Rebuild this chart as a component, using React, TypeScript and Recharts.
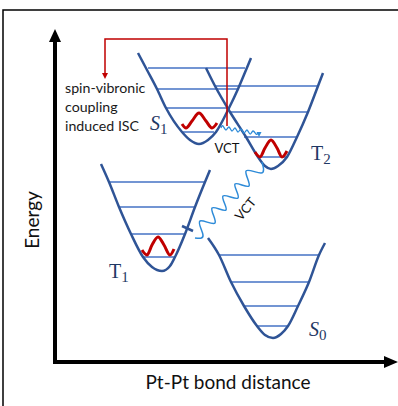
import { ComposedChart, Line, Scatter, XAxis, YAxis } from 'recharts';

// picture is drawn in its own pixel space: x 0..398 left->right, y 0..406 top->bottom
const frame = [{ x: 3, y: 406 }, { x: 3, y: 10 }, { x: 398, y: 10 }];
const axisLines = [{ x: 55, y: 40 }, { x: 55, y: 362 }, { x: 386, y: 362 }];
const iscPath = [{ x: 227, y: 126 }, { x: 227, y: 39 }, { x: 105, y: 39 }, { x: 105, y: 74 }];

// potential wells
const s1Curve = [
  { x: 138, y: 53 }, { x: 147, y: 70 }, { x: 157, y: 89 }, { x: 166, y: 108 }, { x: 182, y: 132 },
  { x: 190, y: 140 }, { x: 199, y: 144 }, { x: 208, y: 140 }, { x: 216, y: 132 }, { x: 229, y: 108 },
  { x: 238, y: 89 }, { x: 246, y: 70 }, { x: 251, y: 58 },
];
const t2Curve = [
  { x: 206, y: 68 }, { x: 215, y: 86 }, { x: 230, y: 112 }, { x: 246, y: 137 }, { x: 258, y: 157 },
  { x: 265, y: 166 }, { x: 271, y: 169 }, { x: 278, y: 166 }, { x: 287, y: 157 }, { x: 297, y: 137 },
  { x: 308, y: 112 }, { x: 318, y: 86 }, { x: 323, y: 73 },
];
const t1Curve = [
  { x: 101, y: 164 }, { x: 109, y: 182 }, { x: 119, y: 207 }, { x: 131, y: 234 }, { x: 143, y: 257 },
  { x: 152, y: 267 }, { x: 162, y: 271 }, { x: 170, y: 266 }, { x: 175, y: 257 }, { x: 185, y: 234 },
  { x: 195, y: 207 }, { x: 205, y: 182 }, { x: 210, y: 170 },
];
const s0Curve = [
  { x: 208, y: 238 }, { x: 219, y: 255 }, { x: 231, y: 282 }, { x: 244, y: 306 }, { x: 257, y: 326 },
  { x: 265, y: 335 }, { x: 273, y: 338 }, { x: 281, y: 334 }, { x: 288, y: 326 }, { x: 298, y: 306 },
  { x: 309, y: 282 }, { x: 319, y: 255 }, { x: 325, y: 243 },
];

// vibrational levels: [y, left x, right x]
const s1Levels = [[68, 148, 245], [89, 157, 237], [108, 167, 228], [132, 183, 214]];
const t2Levels = [[86, 216, 317], [112, 229, 307], [137, 244, 297], [157, 257, 287]];
const t1Levels = [[182, 110, 204], [207, 120, 194], [234, 132, 185], [257, 143, 174]];
const s0Levels = [[255, 218, 319], [282, 230, 308], [306, 244, 298], [326, 257, 287]];

// red vibrational wave packets
const s1Wave = [{ x: 182, y: 124 }, { x: 186, y: 128 }, { x: 192, y: 121 }, { x: 199, y: 113 }, { x: 206, y: 121 }, { x: 212, y: 128 }, { x: 217, y: 123 }];
const t2Wave = [{ x: 255, y: 152 }, { x: 260, y: 157 }, { x: 265, y: 148 }, { x: 271, y: 140 }, { x: 277, y: 148 }, { x: 282, y: 157 }, { x: 287, y: 151 }];
const t1Wave = [{ x: 142, y: 250 }, { x: 147, y: 255 }, { x: 152, y: 245 }, { x: 158, y: 237 }, { x: 164, y: 245 }, { x: 170, y: 255 }, { x: 174, y: 249 }];

// VCT wiggles
const smallWiggle = [
  { x: 221, y: 128 }, { x: 223, y: 126 }, { x: 226, y: 130 }, { x: 229, y: 127 }, { x: 232, y: 131 },
  { x: 235, y: 128 }, { x: 238, y: 132 }, { x: 241, y: 129 }, { x: 244, y: 133 }, { x: 247, y: 130 },
  { x: 250, y: 134 }, { x: 253, y: 131 }, { x: 256, y: 134 }, { x: 258, y: 133 },
];
const bigWiggle = [
  { x: 262, y: 162 }, { x: 261, y: 173 }, { x: 246, y: 171 }, { x: 249, y: 186 }, { x: 235, y: 184 },
  { x: 238, y: 198 }, { x: 223, y: 196 }, { x: 226, y: 210 }, { x: 212, y: 208 }, { x: 215, y: 223 },
  { x: 200, y: 221 }, { x: 203, y: 235 }, { x: 195, y: 238 },
];
const crossTick = [{ x: 182, y: 226 }, { x: 193, y: 231 }];

const arrowHeads = [
  { x: 55, y: 29, dir: 'up', len: 13, half: 6, color: '#000' },
  { x: 398, y: 362, dir: 'right', len: 14, half: 6, color: '#000' },
  { x: 105, y: 79, dir: 'down', len: 6, half: 3, color: '#c00000' },
  { x: 259, y: 137, dir: 'down', len: 5, half: 2.5, color: '#2e8bd8' },
];

const stateLabels = [
  { x: 150, y: 130, main: 'S', sub: '1', italic: true },
  { x: 311, y: 160, main: 'T', sub: '2', italic: false },
  { x: 109, y: 278, main: 'T', sub: '1', italic: false },
  { x: 309, y: 336, main: 'S', sub: '0', italic: true },
];
const noteLines = [
  { x: 65, y: 93, text: 'spin-vibronic' },
  { x: 65, y: 112, text: 'coupling' },
  { x: 65, y: 131, text: 'induced ISC' },
];
const vctLabels = [
  { x: 227, y: 153, text: 'VCT', angle: 0 },
  { x: 249, y: 212, text: 'VCT', angle: -50 },
];
const axisTitles = [
  { x: 39, y: 220, text: 'Energy', angle: -90 },
  { x: 228, y: 389, text: 'Pt-Pt bond distance', angle: 0 },
];

const CURVE = '#2f5496';
const LEVEL = '#4472c4';
const RED = '#c00000';
const WIGGLE = '#2e8bd8';
const NAVY = '#1f3864';
const SANS = 'Lato, "Open Sans", sans-serif';

const levelData = (l: number[]) => [{ x: l[1], y: l[0] }, { x: l[2], y: l[0] }];

let k = 0;
const path = (data: { x: number; y: number }[], stroke: string, width: number, type: any = 'linear') => (
  <Line
    key={`p${k++}`}
    data={data}
    dataKey="y"
    type={type}
    stroke={stroke}
    strokeWidth={width}
    dot={false}
    activeDot={false}
    isAnimationActive={false}
    strokeLinejoin="miter"
  />
);

const drawArrow = (p: any) => {
  const { cx, cy } = p;
  const d = p.payload ?? p;
  let pts = '';
  if (d.dir === 'up') pts = `${cx},${cy} ${cx - d.half},${cy + d.len} ${cx + d.half},${cy + d.len}`;
  if (d.dir === 'down') pts = `${cx},${cy} ${cx - d.half},${cy - d.len} ${cx + d.half},${cy - d.len}`;
  if (d.dir === 'right') pts = `${cx},${cy} ${cx - d.len},${cy - d.half} ${cx - d.len},${cy + d.half}`;
  return <polygon points={pts} fill={d.color} />;
};

const drawState = (p: any) => {
  const d = p.payload ?? p;
  return (
    <text x={p.cx} y={p.cy} fill={NAVY} fontFamily='"Liberation Serif", "DejaVu Serif", serif'>
      <tspan fontSize={20} fontStyle={d.italic ? 'italic' : 'normal'}>{d.main}</tspan>
      <tspan fontSize={15} dy={4}>{d.sub}</tspan>
    </text>
  );
};

const drawNote = (p: any) => {
  const d = p.payload ?? p;
  return (
    <text x={p.cx} y={p.cy} fill="#1a1a1a" fontFamily={SANS} fontSize={14.2}>
      {d.text}
    </text>
  );
};

const drawVct = (p: any) => {
  const d = p.payload ?? p;
  return (
    <text
      x={p.cx}
      y={p.cy}
      textAnchor="middle"
      fill="#111"
      fontFamily={SANS}
      fontSize={13}
      transform={`rotate(${d.angle} ${p.cx} ${p.cy})`}
    >
      {d.text}
    </text>
  );
};

const drawTitle = (p: any) => {
  const d = p.payload ?? p;
  return (
    <text
      x={p.cx}
      y={p.cy}
      textAnchor="middle"
      fill="#111"
      fontFamily={SANS}
      fontSize={19}
      transform={`rotate(${d.angle} ${p.cx} ${p.cy})`}
    >
      {d.text}
    </text>
  );
};

export default function App() {
  return (
    <div style={{ position: 'absolute', left: 0, top: 0, background: '#fff' }}>
      <ComposedChart width={398} height={406} margin={{ top: 0, right: 0, bottom: 0, left: 0 }}>
        <XAxis type="number" dataKey="x" domain={[0, 398]} hide allowDataOverflow />
        <YAxis type="number" dataKey="y" domain={[0, 406]} reversed hide allowDataOverflow />
        {path(frame, '#000', 1.5)}
        {path(axisLines, '#000', 4)}
        {[...s1Levels, ...t2Levels, ...t1Levels, ...s0Levels].map((l) => path(levelData(l), LEVEL, 1.5))}
        {path(s1Curve, CURVE, 2.5, 'monotone')}
        {path(t2Curve, CURVE, 2.5, 'monotone')}
        {path(t1Curve, CURVE, 2.5, 'monotone')}
        {path(s0Curve, CURVE, 2.5, 'monotone')}
        {path(crossTick, CURVE, 2.5)}
        {path(iscPath, RED, 1.5)}
        {path(smallWiggle, WIGGLE, 1.3, 'natural')}
        {path(bigWiggle, WIGGLE, 1.5, 'natural')}
        {path(s1Wave, RED, 3, 'monotone')}
        {path(t2Wave, RED, 3, 'monotone')}
        {path(t1Wave, RED, 3, 'monotone')}
        <Scatter data={arrowHeads} shape={drawArrow} isAnimationActive={false} />
        <Scatter data={stateLabels} shape={drawState} isAnimationActive={false} />
        <Scatter data={noteLines} shape={drawNote} isAnimationActive={false} />
        <Scatter data={vctLabels} shape={drawVct} isAnimationActive={false} />
        <Scatter data={axisTitles} shape={drawTitle} isAnimationActive={false} />
      </ComposedChart>
    </div>
  );
}
